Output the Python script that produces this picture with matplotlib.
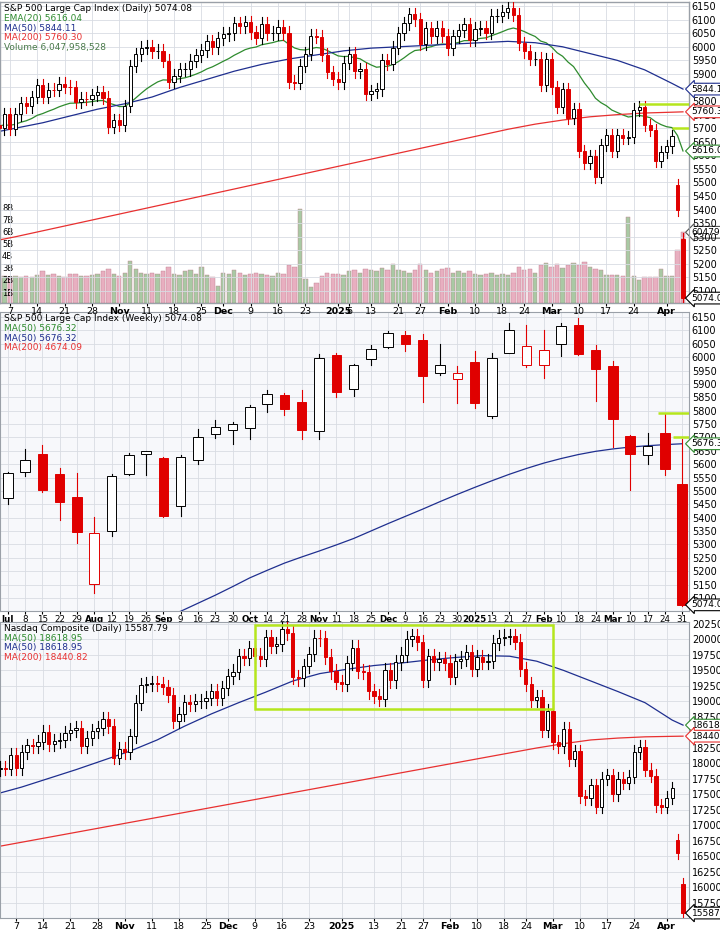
import numpy as np
import pandas as pd
import matplotlib
matplotlib.use("Agg")
import matplotlib.pyplot as plt
from matplotlib.patches import Rectangle

# ── Data ─────────────────────────────────────────────────────
holidays = ["2024-11-28", "2024-12-25", "2025-01-01", "2025-01-09", "2025-01-20", "2025-02-17"]
daily_dates = [d for d in pd.bdate_range("2024-10-01", "2025-04-04") if d.strftime("%Y-%m-%d") not in holidays]

spx_close = [
    5709, 5710, 5699, 5751, 5696, 5751, 5792, 5780, 5815, 5859, 5815, 5842, 5841, 5864, 5853, 5851, 5797, 5809, 5808, 5823, 5832, 5813, 5705,
    5729, 5712, 5782, 5929, 5973, 5996, 6001, 5984, 5985, 5949, 5870, 5894, 5917, 5917, 5949, 5969, 5987, 6021, 5999, 6032,
    6047, 6050, 6086, 6075, 6090, 6053, 6034, 6085, 6051, 6051, 6074, 6051, 5872, 5867, 5931, 5975, 6040, 6037, 5971, 5907, 5882,
    5869, 5942, 5975, 5909, 5918, 5827, 5836, 5843, 5950, 5937, 5997, 6049, 6086, 6119, 6101, 6012, 6068, 6039, 6071, 6041,
    5994, 6038, 6061, 6083, 6026, 6066, 6069, 6052, 6115, 6115, 6129, 6144, 6118, 6013, 5983, 5955, 5956, 5861, 5955,
    5850, 5778, 5843, 5739, 5770, 5615, 5572, 5599, 5522, 5639, 5675, 5615, 5675, 5663, 5668, 5768, 5777, 5712, 5693, 5581, 5612,
    5633, 5671, 5397, 5074.08,
]
spx_open_gaps = {126: 5492, 127: 5292}
spx_volume_b = [
    2.6, 2.5, 2.4, 2.4, 2.3, 2.4, 2.3, 2.4, 2.3, 2.5, 2.8, 2.5, 2.6, 2.4, 2.3, 2.6, 2.6, 2.4, 2.4, 2.5, 2.6, 2.8, 3.0,
    2.6, 2.4, 2.7, 3.7, 3.0, 2.7, 2.6, 2.7, 2.6, 2.8, 3.2, 2.6, 2.5, 2.8, 2.9, 2.6, 3.2, 2.5, 2.3, 1.6,
    2.7, 2.6, 2.9, 2.7, 2.5, 2.6, 2.7, 2.6, 2.5, 2.4, 2.7, 2.6, 3.3, 3.2, 8.0, 2.2, 1.5, 1.8, 2.4, 2.7, 2.6,
    2.6, 2.5, 2.8, 2.9, 2.7, 3.0, 2.9, 2.8, 3.1, 2.9, 3.4, 2.9, 2.8, 2.7, 2.9, 3.4, 2.9, 2.7, 2.8, 3.0,
    3.1, 2.7, 2.8, 2.7, 2.8, 2.6, 2.5, 2.6, 2.7, 2.5, 2.6, 2.5, 2.7, 3.2, 2.9, 3.0, 2.7, 3.3, 3.5,
    3.2, 3.4, 3.1, 3.3, 3.5, 3.3, 3.6, 3.2, 3.0, 2.9, 2.5, 2.5, 2.5, 2.4, 7.3, 2.4, 2.1, 2.3, 2.3, 2.3, 3.0,
    2.4, 2.4, 4.6, 6.05,
]
ma_idx = list(range(0, 126, 5)) + [127]
spx_ma50 = [5680, 5700, 5720, 5745, 5770, 5790, 5815, 5850, 5880, 5910, 5935, 5955, 5970, 5985, 5995, 6000,
            6005, 6010, 6015, 6020, 6015, 6000, 5975, 5950, 5915, 5865, 5844.11]
spx_ma200 = [5280, 5300, 5322, 5344, 5366, 5388, 5410, 5432, 5454, 5476, 5498, 5520, 5542, 5564, 5586, 5608,
             5630, 5652, 5674, 5696, 5715, 5730, 5742, 5750, 5756, 5759, 5760.30]

ndx_close = [
    17910, 17925, 17918, 18138, 17923, 18183, 18291, 18282, 18343, 18503, 18316, 18367, 18374, 18490, 18540, 18573, 18276, 18416, 18519, 18567, 18712, 18607, 18095,
    18239, 18180, 18439, 18983, 19269, 19287, 19299, 19282, 19231, 19107, 18680, 18792, 18988, 18967, 19003, 19004, 19055, 19175, 19060, 19218,
    19404, 19480, 19735, 19700, 19860, 19737, 19687, 20034, 19902, 19927, 20173, 20109, 19393, 19373, 19573, 19764, 20031, 20020, 19722, 19486, 19311,
    19280, 19622, 19865, 19490, 19479, 19162, 19088, 19044, 19511, 19339, 19630, 19757, 20010, 20054, 19954, 19342, 19734, 19633, 19681, 19627,
    19392, 19654, 19692, 19791, 19523, 19714, 19643, 19650, 19946, 20027, 20041, 20056, 19962, 19524, 19287, 19026, 19075, 18544, 18847,
    18350, 18285, 18553, 18069, 18196, 17468, 17436, 17648, 17303, 17754, 17808, 17504, 17750, 17692, 17784, 18189, 18272, 17900, 17805, 17323, 17299,
    17450, 17601, 16551, 15587.79,
]
ndx_open_gaps = {126: 16770, 127: 16050}
ndx_ma50 = [17500, 17620, 17760, 17900, 18050, 18200, 18380, 18600, 18800, 18980, 19150, 19330, 19450, 19520, 19580, 19620,
            19670, 19710, 19740, 19730, 19650, 19500, 19330, 19160, 18980, 18700, 18618.95]
ndx_ma200 = [16650, 16730, 16810, 16890, 16970, 17050, 17130, 17210, 17290, 17370, 17450, 17530, 17610, 17690, 17770, 17850,
             17930, 18010, 18090, 18170, 18250, 18320, 18380, 18410, 18430, 18438, 18440.82]

week_starts = ["2024-07-01", "2024-07-08", "2024-07-15", "2024-07-22", "2024-07-29", "2024-08-05", "2024-08-12", "2024-08-19",
               "2024-08-26", "2024-09-03", "2024-09-09", "2024-09-16", "2024-09-23", "2024-09-30", "2024-10-07", "2024-10-14",
               "2024-10-21", "2024-10-28", "2024-11-04", "2024-11-11", "2024-11-18", "2024-11-25", "2024-12-02", "2024-12-09",
               "2024-12-16", "2024-12-23", "2024-12-30", "2025-01-06", "2025-01-13", "2025-01-21", "2025-01-27", "2025-02-03",
               "2025-02-10", "2025-02-18", "2025-02-24", "2025-03-03", "2025-03-10", "2025-03-17", "2025-03-24", "2025-03-31"]
wk_open = [5475, 5572, 5638, 5565, 5476, 5151, 5351, 5562, 5639, 5624, 5442, 5616, 5711, 5727, 5737, 5825, 5857, 5833, 5725, 6009,
           5882, 5992, 6040, 6083, 6063, 5940, 5920, 5982, 5782, 6014, 5970, 5970, 6048, 6121, 6026, 5968, 5705, 5635, 5718, 5527]
wk_high = [5570, 5655, 5670, 5585, 5566, 5404, 5563, 5643, 5651, 5625, 5636, 5733, 5767, 5757, 5823, 5878, 5868, 5878, 6012, 6017,
           5973, 6045, 6099, 6099, 6085, 6049, 5966, 6022, 6014, 6128, 6120, 6101, 6128, 6147, 6044, 5986, 5710, 5716, 5787, 5695]
wk_low = [5452, 5555, 5497, 5390, 5305, 5119, 5331, 5560, 5560, 5402, 5406, 5599, 5698, 5674, 5695, 5795, 5784, 5696, 5696, 5853,
          5854, 5972, 6035, 6025, 5832, 5932, 5829, 5809, 5773, 6014, 5962, 5923, 6004, 6008, 5837, 5666, 5504, 5600, 5558, 5069]
wk_close = [5567, 5615, 5505, 5459, 5347, 5344, 5554, 5634, 5648, 5408, 5626, 5703, 5738, 5751, 5815, 5864, 5808, 5729, 5996, 5870,
            5969, 6032, 6090, 6051, 5931, 5971, 5942, 5827, 5997, 6101, 6041, 6026, 6115, 6013, 5955, 5770, 5639, 5668, 5581, 5074.08]
wk_ma50 = [4830, 4852, 4875, 4898, 4920, 4943, 4965, 4988, 5010, 5030, 5050, 5080, 5110, 5142, 5175, 5203, 5230, 5253, 5275, 5298,
           5322, 5350, 5378, 5405, 5432, 5460, 5487, 5513, 5538, 5562, 5584, 5604, 5621, 5636, 5648, 5657, 5664, 5669, 5673, 5676.32]

daily_ticks = ["2024-10-07", "2024-10-14", "2024-10-21", "2024-10-28", "2024-11-04", "2024-11-11", "2024-11-18", "2024-11-25",
               "2024-12-02", "2024-12-09", "2024-12-16", "2024-12-23", "2025-01-02", "2025-01-06", "2025-01-13", "2025-01-21",
               "2025-01-27", "2025-02-03", "2025-02-10", "2025-02-18", "2025-02-24", "2025-03-03", "2025-03-10", "2025-03-17",
               "2025-03-24", "2025-04-01"]
daily_tick_labels = ["7", "14", "21", "28", "Nov", "11", "18", "25", "Dec", "9", "16", "23", "2025", "6", "13", "21",
                     "27", "Feb", "10", "18", "24", "Mar", "10", "17", "24", "Apr"]

# ── Style ────────────────────────────────────────────────────
UP_EDGE = "#000000"
DOWN = "#E00000"
GREEN_LINE = "#2E8B2E"
BLUE_LINE = "#1F2F8F"
RED_LINE = "#E83030"
LIME = "#B5E61D"
BG = "#F7F8FB"
GRID = "#D8DCE3"

plt.rcParams["font.family"] = ["DejaVu Sans"]
fig = plt.figure(figsize=(7.2, 9.3), dpi=100)
fig.patch.set_facecolor("white")


def draw_candles(ax, o, h, l, c, width):
    for i in range(len(c)):
        prev = c[i - 1] if i > 0 else o[i]
        col = DOWN if c[i] < prev else UP_EDGE
        hollow = c[i] >= o[i]
        ax.plot([i, i], [l[i], h[i]], color=col, lw=0.8, zorder=3)
        bot, top = min(o[i], c[i]), max(o[i], c[i])
        ax.add_patch(Rectangle((i - width / 2, bot), width, max(top - bot, 1e-6),
                               facecolor="white" if hollow else col, edgecolor=col, lw=0.7, zorder=4))


def daily_ohlc(close, gaps, wick_pct):
    c = np.array(close, float)
    o = np.r_[c[0], c[:-1]]
    for k, v in gaps.items():
        o[k] = v
    h = np.maximum(o, c) * (1 + wick_pct)
    l = np.minimum(o, c) * (1 - wick_pct)
    return o, h, l, c


def style_axis(ax, ylim, yticks):
    ax.set_facecolor(BG)
    ax.set_ylim(*ylim)
    ax.set_yticks(yticks)
    ax.yaxis.tick_right()
    ax.tick_params(axis="y", labelsize=7, length=0, pad=2)
    ax.tick_params(axis="x", labelsize=6.8, length=2, pad=1)
    ax.grid(True, color=GRID, lw=0.6)
    for s in ax.spines.values():
        s.set_color("#9AA0A8")


def bold_months(ax):
    for lbl in ax.get_xticklabels():
        if not lbl.get_text().isdigit() or lbl.get_text() == "2025":
            lbl.set_fontweight("bold")


def value_box(ax, y, text, color):
    ax.annotate(text, xy=(1.0, y), xycoords=("axes fraction", "data"), xytext=(2, 0), textcoords="offset points",
                fontsize=6.5, va="center", ha="left", annotation_clip=False,
                bbox=dict(boxstyle="larrow,pad=0.15", fc="white", ec=color, lw=0.8), zorder=10)


def legend_lines(ax, items):
    for k, (txt, col) in enumerate(items):
        ax.text(0.006, 0.992 - k * 0.032, txt, transform=ax.transAxes, fontsize=6.5, color=col,
                va="top", ha="left", zorder=12)


def date_pos(ticks):
    idx = {d.strftime("%Y-%m-%d"): i for i, d in enumerate(daily_dates)}
    return [idx[t] for t in ticks]


n = len(spx_close)

# ── Panel 1: S&P 500 daily ───────────────────────────────────
ax1 = fig.add_axes([0.0, 1 - 303 / 930, 689 / 720, 301 / 930])
o, h, l, c = daily_ohlc(spx_close, spx_open_gaps, 0.004)
axv = ax1.twinx()
axv.set_zorder(0)
ax1.set_zorder(1)
ax1.patch.set_visible(False)
axv.set_facecolor(BG)
vol_col = ["#A9C9A4" if i == 0 or c[i] >= c[i - 1] else "#E8AFC0" for i in range(n)]
axv.bar(range(n), np.array(spx_volume_b) * 1e9, width=0.8, color=vol_col, edgecolor="#C08090", lw=0.3)
axv.set_ylim(0.17e9, 25.2e9)
axv.set_yticks([])
for b in range(1, 9):
    axv.text(0.003, b * 1e9, f"{b}B", transform=axv.get_yaxis_transform(), fontsize=6, va="center", ha="left")
style_axis(ax1, (5056, 6165), range(5100, 6151, 50))
ax1.set_facecolor("none")
ema20 = pd.Series(c).ewm(span=20, adjust=False).mean()
ax1.plot(range(n), ema20, color=GREEN_LINE, lw=0.9, zorder=2)
ax1.plot(ma_idx, spx_ma50, color=BLUE_LINE, lw=0.9, zorder=2)
ax1.plot(ma_idx, spx_ma200, color=RED_LINE, lw=0.9, zorder=2)
draw_candles(ax1, o, h, l, c, 0.6)
ax1.hlines(5790, 119, 129, color=LIME, lw=1.8, zorder=5)
ax1.hlines(5700, 125, 129, color=LIME, lw=1.8, zorder=5)
ax1.set_xlim(2.2, 128.1)
ax1.set_xticks(date_pos(daily_ticks))
ax1.set_xticklabels(daily_tick_labels)
bold_months(ax1)
legend_lines(ax1, [("S&P 500 Large Cap Index (Daily) 5074.08", "black"), ("EMA(20) 5616.04", GREEN_LINE),
                   ("MA(50) 5844.11", BLUE_LINE), ("MA(200) 5760.30", RED_LINE),
                   ("Volume 6,047,958,528", "#4A7A4A")])
value_box(ax1, 5844.11, "5844.11", BLUE_LINE)
value_box(ax1, 5760.30, "5760.30", RED_LINE)
value_box(ax1, 5616.04, "5616.04", GREEN_LINE)
value_box(ax1, 5074.08, "5074.08", "black")
value_box(axv, 6.05e9, "6047958528", "#555555")

# ── Panel 2: S&P 500 weekly ──────────────────────────────────
ax2 = fig.add_axes([0.0, 1 - 611 / 930, 689 / 720, 299 / 930])
style_axis(ax2, (5051, 6169), range(5100, 6151, 50))
nw = len(wk_close)
ax2.plot(range(nw), wk_ma50, color=BLUE_LINE, lw=0.9, zorder=2)
draw_candles(ax2, wk_open, wk_high, wk_low, wk_close, 0.55)
ax2.hlines(5790, 37.6, 40, color=LIME, lw=1.8, zorder=5)
ax2.hlines(5700, 38.5, 40, color=LIME, lw=1.8, zorder=5)
ax2.set_xlim(-0.45, 39.4)
wdates = pd.to_datetime(week_starts)
wlabels = []
for i, d in enumerate(wdates):
    if i == 0 or d.month != wdates[i - 1].month:
        wlabels.append("2025" if d.month == 1 else d.strftime("%b"))
    else:
        wlabels.append(str(d.day))
ax2.set_xticks(range(nw))
ax2.set_xticklabels(wlabels)
ax2.tick_params(axis="x", labelsize=6.3)
bold_months(ax2)
legend_lines(ax2, [("S&P 500 Large Cap Index (Weekly) 5074.08", "black"), ("MA(50) 5676.32", GREEN_LINE),
                   ("MA(50) 5676.32", BLUE_LINE), ("MA(200) 4674.09", RED_LINE)])
value_box(ax2, 5676.32, "5676.32", GREEN_LINE)
value_box(ax2, 5074.08, "5074.08", "black")

# ── Panel 3: Nasdaq daily ────────────────────────────────────
ax3 = fig.add_axes([0.0, 12 / 930, 689 / 720, 296 / 930])
style_axis(ax3, (15508, 20282), range(15750, 20251, 250))
o3, h3, l3, c3 = daily_ohlc(ndx_close, ndx_open_gaps, 0.006)
ax3.plot(ma_idx, ndx_ma50, color=BLUE_LINE, lw=0.9, zorder=2)
ax3.plot(ma_idx, ndx_ma200, color=RED_LINE, lw=0.9, zorder=2)
draw_candles(ax3, o3, h3, l3, c3, 0.6)
ax3.add_patch(Rectangle((48, 18880), 55, 1350, fill=False, edgecolor=LIME, lw=1.8, zorder=6))
ax3.set_xlim(1.0, 128.1)
t3 = [t for t in daily_ticks if t != "2025-01-06"]
l3_ = [lab for t, lab in zip(daily_ticks, daily_tick_labels) if t != "2025-01-06"]
ax3.set_xticks(date_pos(t3))
ax3.set_xticklabels(l3_)
bold_months(ax3)
legend_lines(ax3, [("Nasdaq Composite (Daily) 15587.79", "black"), ("MA(50) 18618.95", GREEN_LINE),
                   ("MA(50) 18618.95", BLUE_LINE), ("MA(200) 18440.82", RED_LINE)])
value_box(ax3, 18618.95, "18618.95", GREEN_LINE)
value_box(ax3, 18440.82, "18440.82", RED_LINE)
value_box(ax3, 15587.79, "15587.79", "black")

fig.savefig("out.png", dpi=100, facecolor="white")
